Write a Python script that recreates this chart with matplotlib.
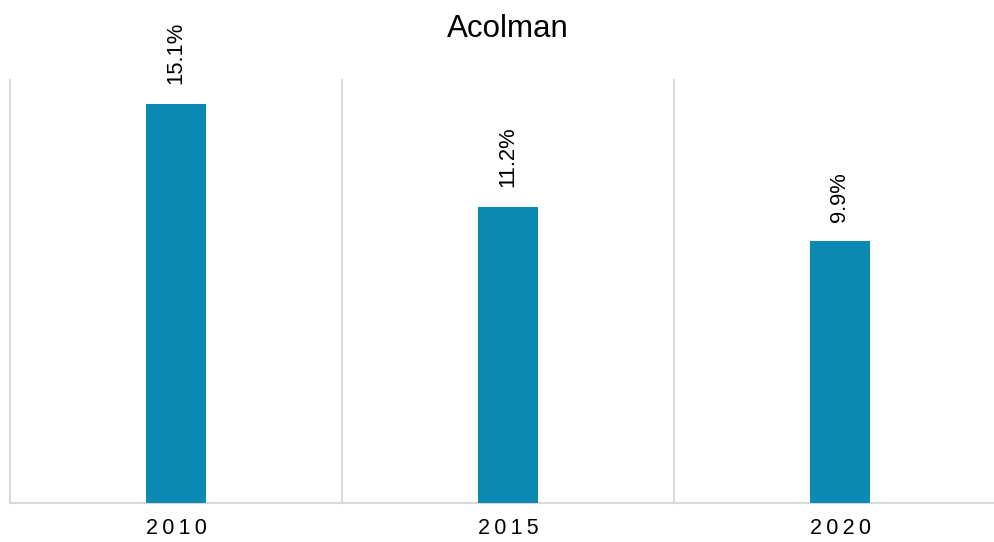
import matplotlib.pyplot as plt

years = ["2010", "2015", "2020"]
values = [15.1, 11.2, 9.9]
labels = ["15.1%", "11.2%", "9.9%"]

bar_color = "#0B89B3"
grid_color = "#D9D9D9"

plt.rcParams["font.family"] = ["Liberation Sans", "DejaVu Sans"]


def spaced(text):
    # wide letter spacing like the original axis labels
    return "\u2009".join(text)


def main():
    fig = plt.figure(figsize=(9.95, 5.42), dpi=100)
    ax = fig.add_axes([10 / 995, 1 - 502.7 / 542, 996 / 995, (502.7 - 80) / 542])

    x = range(len(years))
    bars = ax.bar(x, values, width=0.18, color=bar_color, zorder=3)

    ax.set_xlim(-0.5, len(years) - 0.5)
    ax.set_ylim(0, 16)

    # category separators
    for b in [i - 0.5 for i in range(len(years) + 1)]:
        ax.axvline(b, color=grid_color, linewidth=1.5, zorder=1, clip_on=False)
    ax.axhline(0, color=grid_color, linewidth=1.5, zorder=2, clip_on=False)

    for rect, lab in zip(bars, labels):
        ax.annotate(lab, (rect.get_x() + rect.get_width() / 2, rect.get_height()),
                    xytext=(0, 14), textcoords="offset points",
                    ha="center", va="bottom", rotation=90, fontsize=15.8,
                    color="#000000")

    ax.set_xticks(list(x))
    ax.set_xticklabels([spaced(y) for y in years], fontsize=15.5)
    ax.tick_params(axis="x", length=0, pad=11)
    ax.set_yticks([])
    for s in ax.spines.values():
        s.set_visible(False)

    ax.set_title("Acolman", fontsize=22.5, pad=31)

    fig.savefig("out.png", dpi=100)


if __name__ == "__main__":
    main()
